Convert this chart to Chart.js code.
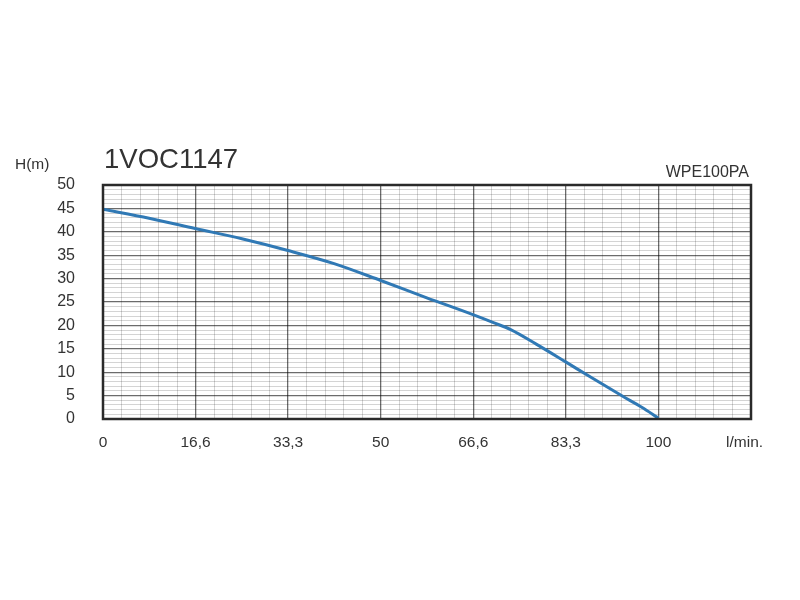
<!DOCTYPE html>
<html>
<head>
<meta charset="utf-8">
<script src="https://cdn.jsdelivr.net/npm/chart.js@4/dist/chart.umd.min.js"></script>
<style>
html,body{margin:0;padding:0;background:#fff;}
#wrap{width:800px;height:600px;}
</style>
</head>
<body>
<div id="wrap"><canvas id="c" width="800" height="600"></canvas></div>
<script>
const chartTitle = '1VOC1147';
const modelLabel = 'WPE100PA';
const yAxisTitle = 'H(m)';
const flowValues = [0, 8.3, 16.6, 25, 33.3, 41.6, 50, 58.3, 66.6, 70.3, 73.4, 78, 83.3, 88, 93.5, 97, 100];
const headValues = [44.8, 42.9, 40.7, 38.5, 36.0, 33.2, 29.6, 25.9, 22.3, 20.6, 19.1, 16.0, 12.2, 8.8, 4.9, 2.5, 0.2];
const xTickLabels = ['0', '16,6', '33,3', '50', '66,6', '83,3', '100', 'l/min.   '];
const yTickLabels = ['0', '5', '10', '15', '20', '25', '30', '35', '40', '45', '50'];

const X_MAJOR = 100 / 6;
const X_MINOR_PER_MAJOR = 5;
const X_MAX = X_MAJOR * (xTickLabels.length - 1);

const points = flowValues.map((x, i) => ({x: x, y: headValues[i]}));

const MAJOR_COLOR = 'rgba(0,0,0,0.58)';
const MINOR_COLOR = 'rgba(0,0,0,0.17)';

const textPlugin = {
  id: 'texts',
  afterDraw(chart) {
    const ctx = chart.ctx;
    const a = chart.chartArea;
    ctx.save();
    ctx.lineWidth = 2.5;
    ctx.strokeStyle = '#2a2a2a';
    ctx.strokeRect(a.left, a.top, a.right - a.left, a.bottom - a.top);
    ctx.fillStyle = '#333';
    ctx.textBaseline = 'alphabetic';
    ctx.textAlign = 'left';
    ctx.font = '27.5px "Liberation Sans", Arial, sans-serif';
    ctx.fillText(chartTitle, 104, 168);
    ctx.font = '15.5px "Liberation Sans", Arial, sans-serif';
    ctx.fillText(yAxisTitle, 15, 169);
    ctx.textAlign = 'right';
    ctx.font = '16px "Liberation Sans", Arial, sans-serif';
    ctx.fillText(modelLabel, 749, 177);
    ctx.restore();
  }
};

new Chart(document.getElementById('c'), {
  type: 'line',
  data: {
    datasets: [{
      data: points,
      borderColor: '#3079b5',
      borderWidth: 3,
      pointRadius: 0,
      fill: false,
      cubicInterpolationMode: 'monotone'
    }]
  },
  options: {
    responsive: false,
    animation: false,
    layout: {padding: {top: 185, right: 49, left: 0, bottom: 0}},
    plugins: {legend: {display: false}, tooltip: {enabled: false}, title: {display: false}},
    scales: {
      x: {
        type: 'linear',
        min: 0,
        max: X_MAX,
        afterBuildTicks(scale) {
          const t = [];
          const n = (xTickLabels.length - 1) * X_MINOR_PER_MAJOR;
          for (let i = 0; i <= n; i++) t.push({value: i * X_MAJOR / X_MINOR_PER_MAJOR});
          scale.ticks = t;
        },
        afterFit(scale) { scale.height = 181; },
        border: {display: false},
        grid: {
          drawTicks: false,
          color: (c) => (c.index % X_MINOR_PER_MAJOR === 0 ? MAJOR_COLOR : MINOR_COLOR),
          lineWidth: (c) => (c.index % X_MINOR_PER_MAJOR === 0 ? 1.3 : 1)
        },
        ticks: {
          autoSkip: false,
          maxRotation: 0,
          padding: 14,
          color: '#333',
          font: {family: '"Liberation Sans", Arial, sans-serif', size: 15.5},
          callback: (v, i) => (i % X_MINOR_PER_MAJOR === 0 ? xTickLabels[i / X_MINOR_PER_MAJOR] : '')
        }
      },
      y: {
        min: 0,
        max: 50,
        afterBuildTicks(scale) {
          const t = [];
          for (let i = 0; i <= 50; i++) t.push({value: i});
          scale.ticks = t;
        },
        afterFit(scale) { scale.width = 103; },
        border: {display: false},
        grid: {
          drawTicks: false,
          color: (c) => (c.index % 5 === 0 ? MAJOR_COLOR : MINOR_COLOR),
          lineWidth: (c) => (c.index % 5 === 0 ? 1.3 : 1)
        },
        ticks: {
          autoSkip: false,
          padding: 28,
          color: '#333',
          font: {family: '"Liberation Sans", Arial, sans-serif', size: 16},
          callback: (v, i) => (i % 5 === 0 ? yTickLabels[i / 5] : '')
        }
      }
    }
  },
  plugins: [textPlugin]
});
</script>
</body>
</html>
